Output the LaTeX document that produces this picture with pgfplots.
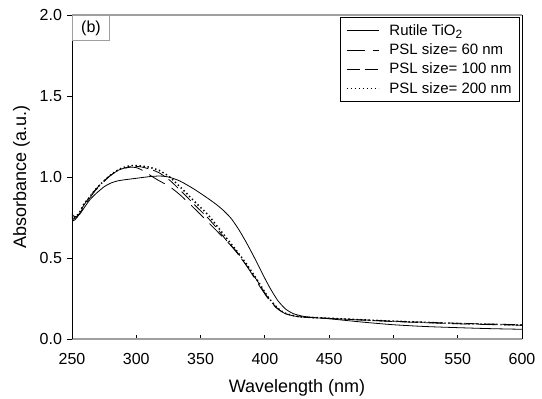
\documentclass[border=0pt]{standalone}
\usepackage{fontspec}
\setmainfont{Liberation Sans}
\usepackage{pgfplots}
\pgfplotsset{compat=1.18}
\begin{document}
\begin{tikzpicture}
\begin{axis}[
  scale only axis, width=450bp, height=324bp,
  xmin=250, xmax=600, ymin=0, ymax=2,
  xtick={250,300,...,600}, ytick={0,0.5,...,2},
  /pgf/number format/assume math mode=true,
  yticklabel style={/pgf/number format/fixed, /pgf/number format/fixed zerofill, /pgf/number format/precision=1, xshift=-2bp},
  xticklabel style={/pgf/number format/fixed, /pgf/number format/precision=0, yshift=-11bp},
  ticklabel style={font=\fontsize{16bp}{19bp}\selectfont},
  label style={font=\fontsize{18bp}{21bp}\selectfont},
  xlabel={Wavelength (nm)}, ylabel={Absorbance (a.u.)},
  xlabel style={yshift=-8bp},
  ylabel style={yshift=3bp},
  separate axis lines,
  x axis line style={draw=gray!75, line width=1.6bp},
  y axis line style={draw=black, line width=0.9bp},
  xtick pos=bottom, ytick pos=left,
  x tick style={black, line width=0.8bp}, y tick style={black, line width=0.8bp},
  xtick align=inside, ytick align=outside,
  major tick length=4.5bp,
  legend cell align=left,
  legend style={at={(1,1)}, anchor=north east, xshift=-2bp, yshift=-2bp, draw=black, line width=0.8bp,
    font=\fontsize{15bp}{18bp}\selectfont, row sep=3bp, inner xsep=6bp, inner ysep=5bp},
  legend image code/.code={\draw[#1] (0bp,0bp) -- (32bp,0bp);},
]
\addplot[black, line width=0.8bp, smooth, tension=0.4] coordinates {
(250,0.78)(251,0.76)(253,0.755)(256,0.77)(259,0.805)(264,0.86)(269,0.90)(275,0.94)(280,0.962)(285,0.975)(290,0.982)(300,0.992)(310,1.002)(318,1.006)(325,1.0)(334,0.975)(345,0.925)(355,0.872)(362,0.832)(368,0.792)(374,0.742)(380,0.672)(386,0.59)(392,0.50)(398,0.405)(404,0.315)(410,0.238)(416,0.186)(422,0.157)(430,0.14)(440,0.131)(450,0.125)(475,0.105)(500,0.088)(525,0.077)(550,0.07)(575,0.064)(600,0.06)};
\addlegendentry{\hspace*{8bp}Rutile TiO{\raisebox{-0.35ex}{\fontsize{12bp}{12bp}\selectfont 2}}}
\addplot[black, line width=0.8bp, smooth, tension=0.4, dash pattern=on 18bp off 8bp] coordinates {
(250,0.76)(251,0.74)(254,0.755)(258,0.80)(263,0.86)(268,0.915)(274,0.965)(280,1.01)(287,1.045)(295,1.06)(300,1.058)(305,1.04)(310,1.015)(316,0.985)(326,0.94)(334,0.89)(344,0.815)(351,0.76)(361,0.68)(369,0.615)(378,0.54)(386,0.45)(394,0.35)(402,0.255)(409,0.192)(415,0.16)(422,0.142)(430,0.135)(450,0.127)(500,0.108)(550,0.094)(600,0.085)};
\addlegendentry{\hspace*{8bp}PSL size= 60 nm}
\addplot[black, line width=0.8bp, smooth, tension=0.4, dash pattern=on 13bp off 5bp] coordinates {
(250,0.75)(251,0.73)(254,0.75)(258,0.81)(263,0.87)(268,0.92)(274,0.97)(280,1.01)(287,1.045)(296,1.065)(304,1.062)(312,1.045)(318,1.025)(326,0.98)(332,0.935)(339,0.88)(347,0.815)(356,0.745)(363,0.68)(370,0.61)(378,0.535)(386,0.45)(394,0.36)(402,0.26)(409,0.195)(415,0.16)(422,0.143)(430,0.135)(450,0.127)(500,0.11)(550,0.097)(600,0.088)};
\addlegendentry{\hspace*{8bp}PSL size= 100 nm}
\addplot[black, line width=1.5bp, smooth, tension=0.4, dash pattern=on 1.4bp off 2.6bp] coordinates {
(250,0.77)(251,0.75)(255,0.77)(259,0.83)(264,0.88)(268,0.92)(274,0.97)(280,1.012)(287,1.049)(296,1.07)(308,1.064)(318,1.04)(326,1.0)(332,0.955)(339,0.9)(347,0.835)(356,0.765)(363,0.695)(370,0.625)(378,0.545)(386,0.46)(394,0.365)(402,0.265)(409,0.198)(415,0.162)(422,0.145)(430,0.136)(450,0.128)(500,0.11)(550,0.096)(600,0.086)};
\addlegendentry{\hspace*{8bp}PSL size= 200 nm}
\node[draw=gray!75, line width=0.9bp, anchor=north west, inner sep=3bp, minimum width=37bp, minimum height=25bp,
  font=\fontsize{16bp}{19bp}\selectfont] at (rel axis cs:0,1) {(b)};
\end{axis}
\pgfresetboundingbox
\path ([shift={(-72bp,-60bp)}]current axis.south west) rectangle ([shift={(20bp,15bp)}]current axis.north east);
\end{tikzpicture}
\end{document}
